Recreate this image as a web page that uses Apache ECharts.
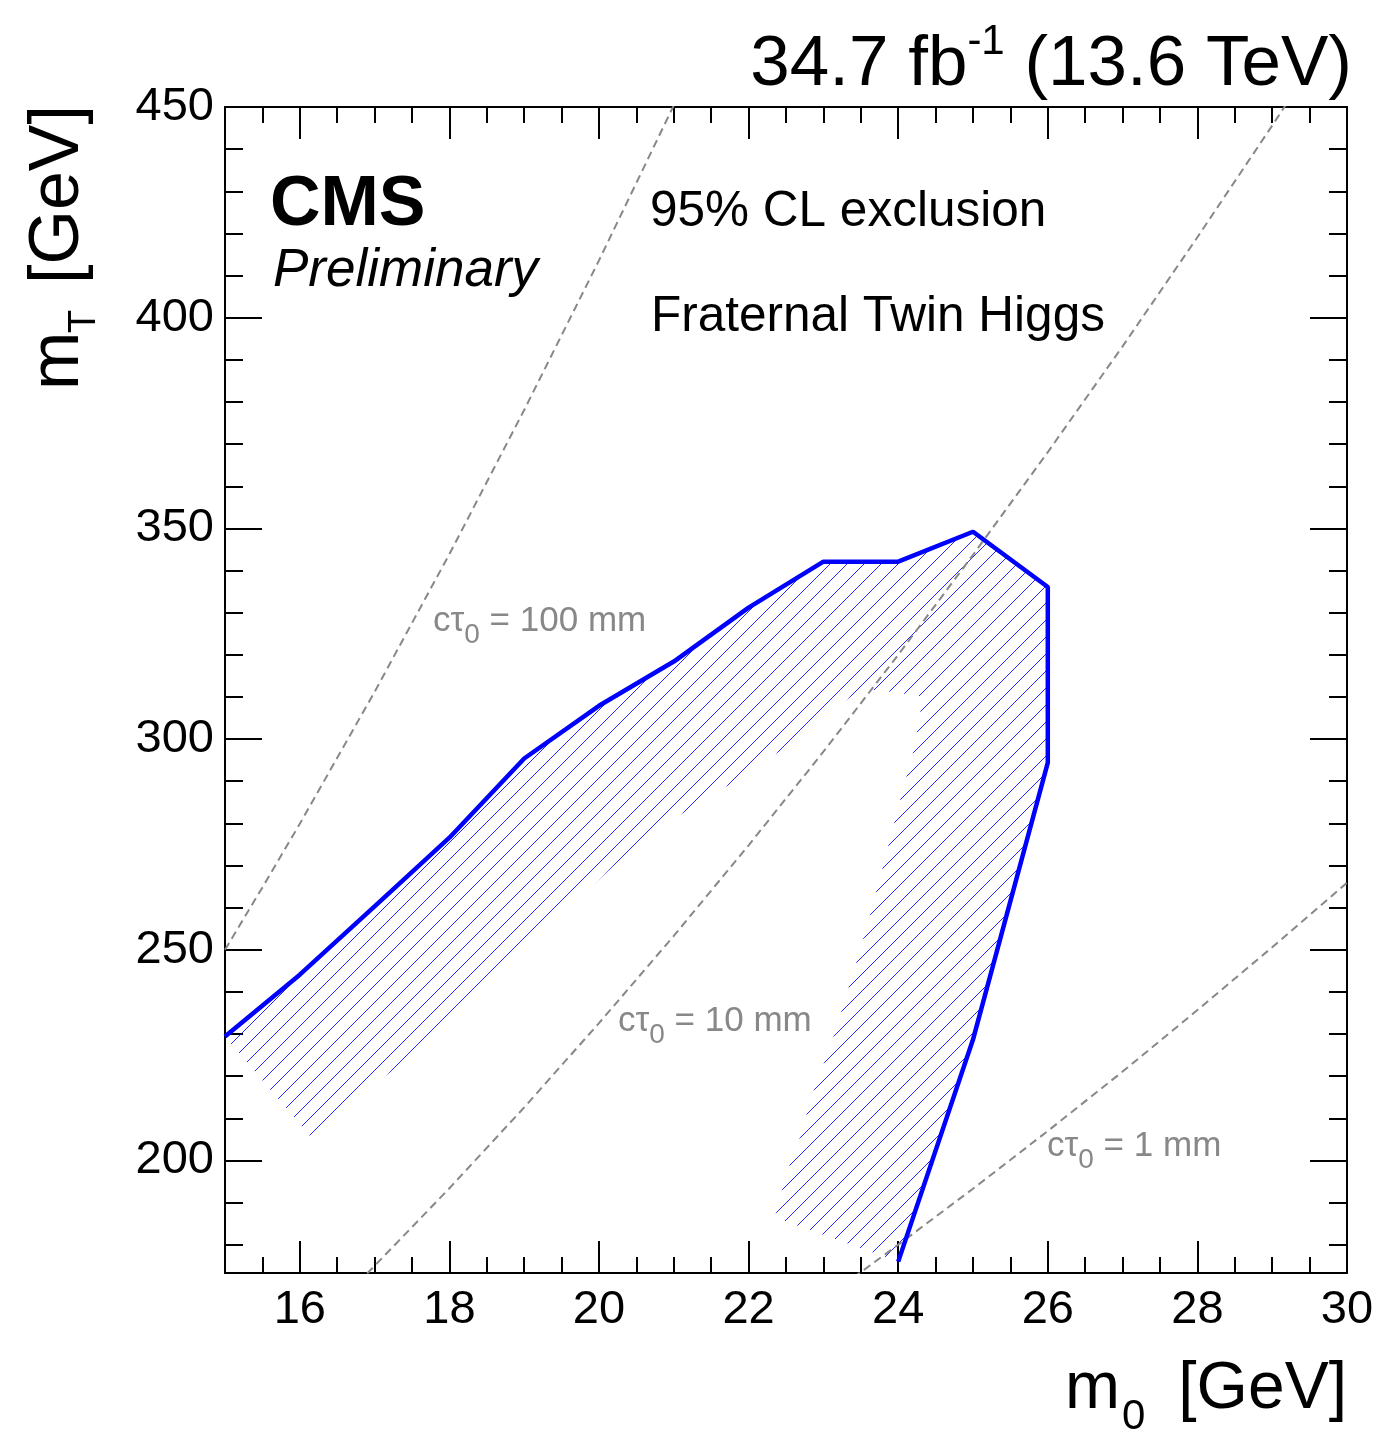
<!DOCTYPE html>
<html><head><meta charset="utf-8">
<script src="https://cdn.jsdelivr.net/npm/echarts@6/dist/echarts.min.js"></script>
<style>html,body{margin:0;padding:0;background:#fff}#c{width:1377px;height:1433px}</style>
</head><body><div id="c"></div>
<script>
// ---------------- data ----------------
const X_MIN = 15, X_MAX = 30, Y_MIN = 173.3, Y_MAX = 450;
const xTickLabels = [16, 18, 20, 22, 24, 26, 28, 30];
const yTickLabels = [200, 250, 300, 350, 400, 450];

// observed 95% CL exclusion contour
const contourM0 = [15, 16, 17, 18, 19, 20, 21, 22, 23, 24, 25, 26, 26, 25, 24];
const contourMT = [229.4, 244.1, 260.3, 276.6, 295.4, 307.9, 318.4, 331.2, 342.1, 342.1, 349.2, 336.1, 294.4, 228.7, 176.0];

// inner edge of the hatched band (from the lower end back to the left edge)
const bandInnerM0 = [22.35, 22.51, 22.65, 22.86, 23.11, 23.22, 23.42, 23.60, 23.76, 23.93, 24.09, 24.18, 24.29, 24.32, 23.93, 23.62, 23.40, 22.49, 21.79, 21.26, 20.57, 17.43, 17.30, 16.15];
const bandInnerMT = [186.5, 197.2, 203.3, 216.1, 228.0, 234.2, 245.8, 256.7, 267.4, 279.0, 289.9, 295.1, 305.3, 310.1, 311.2, 311.7, 310.5, 298.0, 289.7, 284.0, 276.1, 224.0, 222.3, 205.5];

// lifetime iso-lines
const cTau100M0 = [15, 15.5, 16, 17, 18, 19, 20, 21];
const cTau100MT = [250.0, 264.8, 279.9, 311.2, 343.9, 378.1, 413.6, 450.4];
const cTau10M0 = [16.9, 17, 18, 19, 20, 21, 22, 23, 24, 25, 26, 27, 28, 29, 29.2];
const cTau10MT = [173.2, 175.0, 193.4, 212.6, 232.6, 253.3, 274.8, 297.0, 320.0, 343.7, 368.1, 393.2, 419.1, 445.6, 451.0];
const cTau1M0 = [23.4, 24, 25, 26, 27, 28, 29, 30];
const cTau1MT = [172.2, 180.0, 193.3, 207.0, 221.1, 235.7, 250.6, 265.9];

const cTauLabels = ['100', '10', '1'];

// ---------------- helpers ----------------
const FONT = '"Liberation Sans", Arial, Helvetica, sans-serif';
const mctx = document.createElement('canvas').getContext('2d');
function fontStr(p) { return (p.italic ? 'italic ' : '') + (p.bold ? 'bold ' : '') + p.size + 'px ' + FONT; }
function measure(p) { mctx.font = fontStr(p); return mctx.measureText(p.text).width; }
function textRun(x, baseline, parts, align, color) {
  const w = parts.map(measure);
  const total = w.reduce((a, b) => a + b, 0);
  let cx = align === 'right' ? x - total : x;
  return parts.map((p, i) => {
    const el = {
      type: 'text', silent: true, x: cx, y: baseline + (p.dy || 0) - 0.347 * p.size,
      style: { text: p.text, font: fontStr(p), fill: color || '#000', textAlign: 'left',
               verticalAlign: 'middle', textVerticalAlign: 'middle' }
    };
    cx += w[i];
    return el;
  });
}
const pairs = (a, b) => a.map((v, i) => [v, b[i]]);

// hatch pattern
const hc = document.createElement('canvas');
hc.width = 17; hc.height = 17;
(function () {
  const g = hc.getContext('2d');
  g.strokeStyle = 'rgba(0,0,255,0.85)';
  g.lineWidth = 1;
  g.beginPath();
  g.moveTo(-2, 19); g.lineTo(19, -2);
  g.moveTo(-2, 2); g.lineTo(2, -2);
  g.moveTo(15, 19); g.lineTo(19, 15);
  g.stroke();
})();

// ticks
const xMinor = [], yMinor = [];
for (let v = 15.5; v < 30; v += 0.5) if (xTickLabels.indexOf(v) < 0) xMinor.push(v);
for (let v = 180; v < 450; v += 10) if (yTickLabels.indexOf(v) < 0) yMinor.push(v);

function xAx(pos, vals, len, showLine, showLabel) {
  return {
    type: 'value', position: pos, min: X_MIN, max: X_MAX,
    axisLine: { show: showLine, onZero: false, lineStyle: { color: '#000', width: 2 } },
    axisTick: { show: true, inside: true, length: len, customValues: vals, lineStyle: { color: '#000', width: 2 } },
    axisLabel: { show: showLabel, customValues: vals, margin: 14, fontSize: 47, fontFamily: FONT, color: '#000' },
    splitLine: { show: false }
  };
}
function yAx(pos, vals, len, showLine, showLabel) {
  return {
    type: 'value', position: pos, min: Y_MIN, max: Y_MAX,
    axisLine: { show: showLine, onZero: false, lineStyle: { color: '#000', width: 2 } },
    axisTick: { show: true, inside: true, length: len, customValues: vals, lineStyle: { color: '#000', width: 2 } },
    axisLabel: { show: showLabel, customValues: vals, margin: 11, fontSize: 47, fontFamily: FONT, color: '#000' },
    splitLine: { show: false }
  };
}

function bandRender(params, api) {
  const pts = [];
  for (let i = 0; i < contourM0.length; i++) pts.push(api.coord([contourM0[i], contourMT[i]]));
  for (let i = 0; i < bandInnerM0.length; i++) pts.push(api.coord([bandInnerM0[i], bandInnerMT[i]]));
  return { type: 'polygon', shape: { points: pts }, style: { fill: { image: hc, repeat: 'repeat' }, stroke: null } };
}

const dashStyle = { color: '#888888', width: 2, type: [8, 5] };
const GRAY = '#888888';

// texts
const graphics = [].concat(
  textRun(1352, 90, [{ text: '34.7 fb', size: 71 }, { text: '-1', size: 42, dy: -33 }, { text: ' (13.6 TeV)', size: 71 }], 'right'),
  textRun(270, 230, [{ text: 'CMS', size: 70, bold: true }], 'left'),
  textRun(273, 290, [{ text: 'Preliminary', size: 53, italic: true }], 'left'),
  textRun(650, 230, [{ text: '95% CL exclusion', size: 49.5 }], 'left'),
  textRun(651, 335, [{ text: 'Fraternal Twin Higgs', size: 49.5 }], 'left'),
  textRun(433, 633, [{ text: 'cτ', size: 35 }, { text: '0', size: 28, dy: 12 }, { text: ' = ' + cTauLabels[0] + ' mm', size: 35 }], 'left', GRAY),
  textRun(618, 1033, [{ text: 'cτ', size: 35 }, { text: '0', size: 28, dy: 12 }, { text: ' = ' + cTauLabels[1] + ' mm', size: 35 }], 'left', GRAY),
  textRun(1047, 1158, [{ text: 'cτ', size: 35 }, { text: '0', size: 28, dy: 12 }, { text: ' = ' + cTauLabels[2] + ' mm', size: 35 }], 'left', GRAY),
  // x axis title
  textRun(1065, 1413, [{ text: 'm', size: 66 }], 'left'),
  textRun(1122, 1432, [{ text: '0', size: 42 }], 'left'),
  textRun(1347, 1413, [{ text: '[GeV]', size: 66 }], 'right'),
  // y axis title (rotated)
  [{
    type: 'group', x: 83, y: 387, rotation: Math.PI / 2, silent: true,
    children: [].concat(
      textRun(-3, 0, [{ text: 'm', size: 70 }], 'left'),
      textRun(54, 15, [{ text: 'T', size: 38 }], 'left'),
      textRun(282, 0, [{ text: '[GeV]', size: 70 }], 'right')
    )
  }]
);

const chart = echarts.init(document.getElementById('c'), null, { renderer: 'canvas' });
chart.setOption({
  backgroundColor: '#ffffff',
  animation: false,
  grid: { left: 225, right: 30, top: 107, bottom: 160, containLabel: false },
  xAxis: [
    xAx('bottom', xTickLabels, 32, true, true),
    xAx('bottom', xMinor, 16, false, false),
    xAx('top', xTickLabels, 32, true, false),
    xAx('top', xMinor, 16, false, false)
  ],
  yAxis: [
    yAx('left', yTickLabels, 37, true, true),
    yAx('left', yMinor, 18, false, false),
    yAx('right', yTickLabels, 37, true, false),
    yAx('right', yMinor, 18, false, false)
  ],
  series: [
    { type: 'custom', renderItem: bandRender, data: [0], clip: true, silent: true, z: 1, xAxisIndex: 0, yAxisIndex: 0 },
    { type: 'line', data: pairs(cTau100M0, cTau100MT), showSymbol: false, silent: true, lineStyle: dashStyle, z: 2, xAxisIndex: 0, yAxisIndex: 0 },
    { type: 'line', data: pairs(cTau10M0, cTau10MT), showSymbol: false, silent: true, lineStyle: dashStyle, z: 2, xAxisIndex: 0, yAxisIndex: 0 },
    { type: 'line', data: pairs(cTau1M0, cTau1MT), showSymbol: false, silent: true, lineStyle: dashStyle, z: 2, xAxisIndex: 0, yAxisIndex: 0 },
    { type: 'line', data: pairs(contourM0, contourMT), showSymbol: false, silent: true, lineStyle: { color: '#0000ff', width: 4.5 }, z: 3, xAxisIndex: 0, yAxisIndex: 0 }
  ],
  graphic: { elements: graphics }
});
</script>
</body></html>
